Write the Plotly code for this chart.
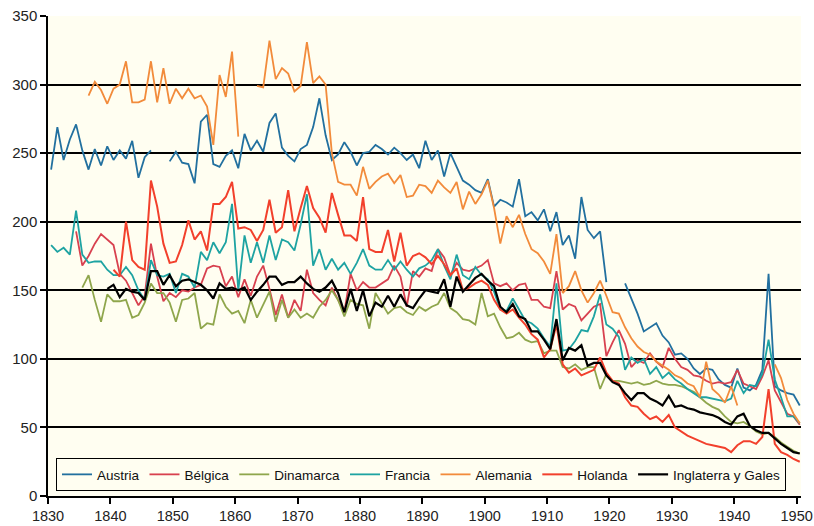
import plotly.graph_objects as go

years = list(range(1830, 1951))
N = None

austria = [238, 269, 245, 260, 271, 252, 238, 253, 241, 255,
           245, 252, 246, 259, 232, 247, 252, N, N, 244,
           251, 243, 242, 228, 273, 278, 242, 240, 248, 252,
           239, 264, 252, 259, 251, 272, 279, 254, 248, 244,
           253, 256, 269, 290, 263, 245, 249, 258, 251, 241,
           250, 251, 256, 253, 249, 254, 250, 245, 249, 239,
           259, 245, 252, 233, 250, 240, 230, 227, 223, 221,
           231, 211, 216, 214, 211, 231, 204, 207, 201, 209,
           193, 207, 183, 190, 173, 218, 194, 188, 193, 156,
           N, N, 155, 144, 133, 120, 123, 126, 117, 112,
           103, 104, 100, 93, 89, 93, 92, 85, 81, 79,
           93, 79, 77, 81, 92, 162, 80, 77, 75, 74,
           66]

belgica = [N, N, N, N, 193, 168, 175, 184, 191, 187,
           183, 162, 157, 148, 139, 146, 184, 160, 142, 148,
           145, 150, 149, 152, 154, 166, 168, 167, 153, 160,
           145, 158, 146, 160, 168, 151, 132, 147, 130, 143,
           135, 165, 148, 143, 139, 152, 143, 134, 162, 150,
           156, 152, 152, 155, 158, 168, 160, 138, 164, 160,
           166, 164, 180, 174, 161, 170, 165, 164, 166, 168,
           172, 155, 153, 155, 150, 154, 155, 143, 143, 138,
           137, 164, 136, 140, 138, 128, 133, 138, 140, 102,
           112, 121, 111, 94, 99, 97, 104, 98, 94, 108,
           100, 94, 92, 88, 87, 84, 82, 83, 82, 83,
           92, 82, 80, 78, 87, 99, 77, 68, 60, 58,
           52]

dinamarca = [N, N, N, N, N, 152, 161, 143, 127, 147,
             142, 142, 143, 130, 132, 141, 155, 148, 148, 141,
             127, 143, 144, 148, 122, 126, 125, 147, 138, 133,
             135, 126, 143, 130, 140, 149, 127, 143, 130, 136,
             130, 133, 130, 138, 143, 150, 143, 131, 143, 140,
             139, 122, 148, 140, 133, 137, 138, 134, 132, 138,
             135, 138, 140, 148, 137, 134, 129, 128, 125, 148,
             131, 133, 123, 115, 116, 119, 114, 112, 113, 104,
             106, 106, 94, 93, 96, 92, 94, 94, 78, 89,
             84, 84, 83, 82, 83, 81, 82, 84, 82, 81,
             81, 80, 78, 76, 72, 68, 65, 63, 58, 54,
             53, 54, 51, 47, 45, 46, 43, 39, 36, 33,
             31]

francia = [183, 178, 181, 176, 208, 176, 170, 171, 171, 165,
           161, 161, 167, 161, 150, 143, 172, 161, 160, 162,
           148, 162, 160, 152, 178, 172, 185, 177, 185, 213,
           150, 190, 170, 185, 170, 190, 172, 187, 185, 179,
           198, 220, 168, 180, 165, 173, 165, 170, 162, 170,
           180, 168, 165, 165, 172, 165, 171, 165, 160, 166,
           168, 172, 180, 168, 158, 176, 161, 158, 167, 161,
           158, 149, 136, 135, 144, 136, 128, 126, 122, 115,
           109, 155, 106, 107, 113, 121, 120, 131, 147, 125,
           122, 116, 92, 101, 97, 100, 89, 94, 86, 90,
           85, 82, 78, 75, 72, 72, 71, 70, 69, 71,
           84, 75, 81, 80, 89, 114, 85, 72, 58, 58,
           53]

alemania = [N, N, N, N, N, N, 292, 302, 296, 286,
            297, 300, 317, 287, 287, 289, 317, 287, 312, 286,
            297, 290, 297, 290, 292, 284, 256, 307, 291, 324,
            262, N, N, 299, 298, 332, 304, 312, 308, 295,
            299, 331, 301, 306, 300, 250, 229, 227, 227, 219,
            240, 224, 229, 233, 235, 228, 234, 218, 219, 227,
            226, 221, 230, 225, 221, 229, 209, 222, 213, 220,
            230, 210, 184, 204, 196, 205, 191, 180, 177, 171,
            162, 191, 148, 153, 164, 150, 141, 148, 157, 146,
            134, 133, 123, 115, 109, 105, 103, 98, 95, 92,
            88, 86, 82, 80, 72, 98, 78, 74, 68, 80,
            66, N, N, N, N, N, 96, 86, 70, 60,
            53]

holanda = [N, N, N, N, N, N, N, N, N, N,
           165, 160, 200, 172, 167, 165, 230, 211, 184, 170,
           171, 183, 201, 187, 193, 179, 213, 213, 218, 229,
           195, 196, 194, 186, 194, 216, 192, 196, 223, 193,
           210, 226, 210, 203, 192, 221, 205, 190, 190, 186,
           218, 180, 178, 178, 194, 171, 192, 168, 175, 177,
           174, 169, 175, 169, 161, 166, 150, 152, 155, 157,
           154, 143, 136, 133, 136, 130, 125, 118, 114, 101,
           107, 125, 96, 90, 93, 88, 90, 92, 101, 90,
           84, 82, 72, 66, 65, 60, 56, 58, 54, 59,
           50, 47, 44, 42, 40, 38, 37, 36, 35, 32,
           37, 40, 40, 38, 43, 78, 38, 32, 30, 27,
           25]

inglaterra = [N, N, N, N, N, N, N, N, N, 151,
              154, 145, 151, 149, 148, 143, 164, 164, 154, 161,
              153, 157, 158, 156, 154, 150, 144, 155, 151, 152,
              150, 152, 143, 149, 154, 160, 160, 154, 156, 156,
              160, 155, 151, 149, 152, 157, 148, 134, 151, 135,
              150, 131, 141, 138, 146, 138, 147, 139, 137, 144,
              150, 149, 148, 158, 138, 160, 149, 154, 159, 162,
              157, 153, 138, 134, 140, 131, 129, 120, 120, 114,
              107, 129, 99, 108, 106, 110, 95, 97, 97, 88,
              83, 81, 75, 70, 75, 75, 71, 69, 66, 73,
              65, 66, 64, 63, 61, 60, 59, 57, 54, 52,
              58, 60, 51, 48, 46, 46, 42, 38, 35, 32,
              31]

tick_years = list(range(1830, 1951, 10))
y_ticks = list(range(0, 351, 50))

series = [
    ("Austria", austria, "#22709F", 1.8),
    ("Bélgica", belgica, "#D8414F", 1.8),
    ("Dinamarca", dinamarca, "#8FA64C", 1.8),
    ("Francia", francia, "#1EA3A2", 1.8),
    ("Alemania", alemania, "#F28B3B", 1.8),
    ("Holanda", holanda, "#F2402C", 2.0),
    ("Inglaterra y Gales", inglaterra, "#000000", 2.2),
]

fig = go.Figure()
for name, vals, color, w in series:
    fig.add_trace(go.Scatter(
        x=years, y=vals, mode="lines", name=name,
        line=dict(color=color, width=w),
        connectgaps=False,
    ))

bg = "#FFFEF1"
fig.update_layout(
    width=814, height=526,
    margin=dict(l=48, r=13, t=16, b=30, autoexpand=False),
    paper_bgcolor="white",
    plot_bgcolor=bg,
    font=dict(family="Liberation Sans, Arial, sans-serif", size=14, color="#222222"),
    showlegend=True,
    legend=dict(
        orientation="h",
        x=0.0106, y=0.079, xanchor="left", yanchor="top",
        bgcolor=bg, bordercolor="#000000", borderwidth=1,
        font=dict(size=13.5, color="#111111"),
        itemwidth=30,
        tracegroupgap=0,
    ),
)
fig.update_xaxes(
    range=[1829.5, 1950.2],
    tickvals=[t - 0.5 for t in tick_years],
    ticktext=[str(t) for t in tick_years],
    showgrid=False, zeroline=False,
    showline=True, linecolor="#000000", linewidth=1.5,
    ticks="outside", ticklen=6, tickcolor="#000000", tickwidth=1.5,
    tickfont=dict(size=14.5, color="#222222"),
    ticklabeloverflow="allow",
)
fig.update_yaxes(
    range=[0, 350],
    tickvals=y_ticks,
    showgrid=True, gridcolor="#000000", gridwidth=1.6,
    zeroline=False,
    showline=True, linecolor="#000000", linewidth=1.5,
    ticks="outside", ticklen=6, tickcolor="#000000", tickwidth=1.5,
    tickfont=dict(size=15, color="#222222"),
    ticklabeloverflow="allow",
)

fig.write_html(
    "out.html",
    config={"displayModeBar": False},
    post_script="document.body.style.margin='0';document.body.style.overflow='hidden';",
)
